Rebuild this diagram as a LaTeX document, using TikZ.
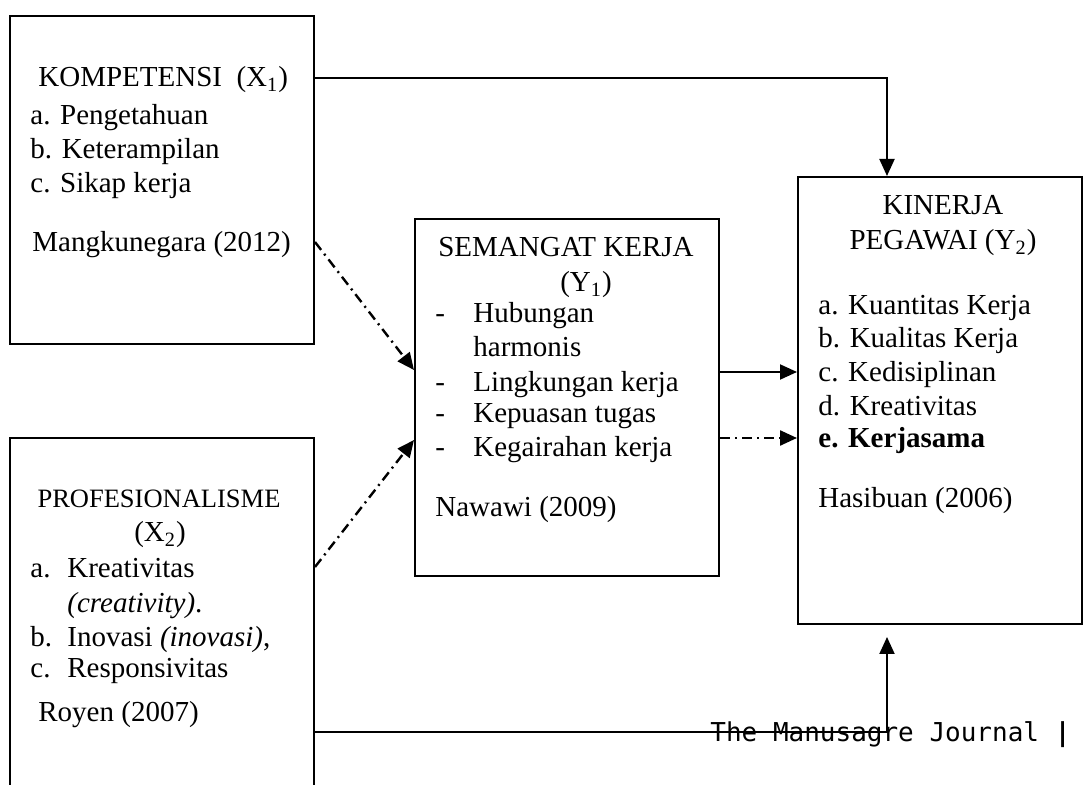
\documentclass[tikz,border=0pt]{standalone}
\usepackage{fontspec}
\setmainfont{Liberation Serif}
\newfontfamily\journalfont{DejaVu Sans Mono}
\usetikzlibrary{arrows.meta,calc}
\begin{document}
\begin{tikzpicture}[x=0.5pt,y=-0.5pt,
  box/.style={draw, line width=1pt, rectangle, inner sep=0pt, anchor=north west},
  txt/.style={anchor=base west, inner sep=0pt, font=\fontsize{14.5}{17}\selectfont},
  ctxt/.style={anchor=base, inner sep=0pt, font=\fontsize{14.5}{17}\selectfont},
  conn/.style={line width=1pt, -{Triangle[length=8.5pt,width=7.5pt]}},
  dashdot/.style={conn, line width=1.2pt, dash pattern=on 5pt off 2.5pt on 1pt off 2.5pt},
]
\useasboundingbox (0,0) rectangle (1083,785);
\clip (0,0) rectangle (1083,785);

% boxes
\node[box, minimum width=152pt, minimum height=164pt] (kom) at (9,15) {};
\node[box, minimum width=152pt, minimum height=182pt] (pro) at (9,437) {};
\node[box, minimum width=152pt, minimum height=178.5pt] (sem) at (414,218) {};
\node[box, minimum width=142pt, minimum height=223.5pt] (kin) at (797,176) {};

% KOMPETENSI
\node[txt] (k0) at (38,87) {KOMPETENSI\ \ (X\textsubscript{1})};
\node[txt] (k1) at (30,125) {a. Pengetahuan};
\node[txt] (k2) at (30,159) {b. Keterampilan};
\node[txt] (k3) at (30,193) {c. Sikap kerja};
\node[txt] (k4) at (32,252) {Mangkunegara (2012)};

% PROFESIONALISME
\node[ctxt, font=\fontsize{13.25}{16}\selectfont] (p0) at (159,508) {PROFESIONALISME};
\node[ctxt] (p1) at (160,542) {(X\textsubscript{2})};
\node[txt] (p2) at (30,578) {\makebox[18.5pt][l]{a.}Kreativitas};
\node[txt] (p3) at (67,613) {\textit{(creativity)}.};
\node[txt] (p4) at (30,647) {\makebox[18.5pt][l]{b.}Inovasi \textit{(inovasi)},};
\node[txt] (p5) at (30,678) {\makebox[18.5pt][l]{c.}Responsivitas};
\node[txt] (p6) at (38,722) {Royen (2007)};

% SEMANGAT KERJA
\node[ctxt] (s0) at (566,257) {SEMANGAT KERJA};
\node[ctxt] (s1) at (586,292) {(Y\textsubscript{1})};
\node[txt] (s2) at (435,323) {\makebox[19pt][l]{-}Hubungan};
\node[txt] (s3) at (473,357) {harmonis};
\node[txt] (s4) at (435,392) {\makebox[19pt][l]{-}Lingkungan kerja};
\node[txt] (s5) at (435,423) {\makebox[19pt][l]{-}Kepuasan tugas};
\node[txt] (s6) at (435,457) {\makebox[19pt][l]{-}Kegairahan kerja};
\node[txt] (s7) at (435,517) {Nawawi (2009)};

% KINERJA PEGAWAI
\node[ctxt] (y0) at (943,215) {KINERJA};
\node[ctxt] (y1) at (943,250) {PEGAWAI (Y\textsubscript{2})};
\node[txt] (y2) at (818,315) {a. Kuantitas Kerja};
\node[txt] (y3) at (818,348) {b. Kualitas Kerja};
\node[txt] (y4) at (818,382) {c. Kedisiplinan};
\node[txt] (y5) at (818,416) {d. Kreativitas};
\node[txt] (y6) at (818,448) {\textbf{e. Kerjasama}};
\node[txt] (y7) at (818,508) {Hasibuan (2006)};

% journal footer
\node[anchor=base west, inner sep=0pt, font=\journalfont\fontsize{13}{15}\selectfont] (jr) at (710,742) {The Manusagre Journal \textbf{|}};

% connectors
\draw[conn] ($(kom.north east)+(0,63)$) -| ($(kin.north west)+(90,0)$);
\draw[conn, shorten >=6pt] ($(pro.north east)+(0,295)$) -| ($(kin.south west)+(90,0)$);
\draw[dashdot] ($(kom.north east)+(0,227)$) -- ($(sem.north west)+(0,152)$);
\draw[dashdot] ($(pro.north east)+(0,130)$) -- ($(sem.north west)+(0,222)$);
\draw[conn] ($(sem.north east)+(0,154)$) -- ($(kin.north west)+(0,196)$);
\draw[dashdot] ($(sem.north east)+(0,220)$) -- ($(kin.north west)+(0,262)$);
\end{tikzpicture}
\end{document}
